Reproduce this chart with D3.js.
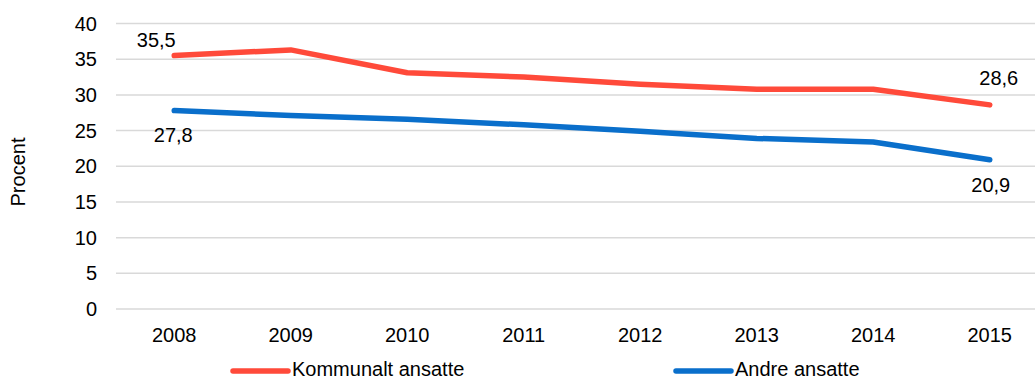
<!DOCTYPE html>
<html>
<head>
<meta charset="utf-8">
<script src="https://cdn.jsdelivr.net/npm/d3@7/dist/d3.min.js"></script>
<style>
  body { margin: 0; background: #fff; }
  text { font-family: "Liberation Sans", Arial, sans-serif; fill: #000; }
</style>
</head>
<body>
<div id="chart"></div>
<script>
var years = ["2008", "2009", "2010", "2011", "2012", "2013", "2014", "2015"];
var kommunalt = [35.5, 36.3, 33.1, 32.5, 31.5, 30.8, 30.8, 28.6];
var andre = [27.8, 27.1, 26.6, 25.8, 24.9, 23.9, 23.4, 20.9];
var yTicks = [0, 5, 10, 15, 20, 25, 30, 35, 40];

var width = 1035, height = 379;
var svg = d3.select("#chart").append("svg")
    .attr("width", width).attr("height", height);

var x = d3.scaleBand().domain(years).range([116, 1048]);
var y = d3.scaleLinear().domain([0, 40]).range([309, 23.5]);

// gridlines
svg.append("g").selectAll("line")
    .data(yTicks)
    .enter().append("line")
    .attr("x1", 116).attr("x2", width)
    .attr("y1", function(d) { return y(d); })
    .attr("y2", function(d) { return y(d); })
    .attr("stroke", "#d9d9d9").attr("stroke-width", 1.5);

// y tick labels
svg.append("g").selectAll("text")
    .data(yTicks)
    .enter().append("text")
    .attr("x", 97)
    .attr("y", function(d) { return y(d) + 7; })
    .attr("text-anchor", "end")
    .style("font-size", "20px")
    .text(function(d) { return d; });

// x labels
svg.append("g").selectAll("text")
    .data(years)
    .enter().append("text")
    .attr("x", function(d) { return x(d) + x.bandwidth() / 2; })
    .attr("y", 342)
    .attr("text-anchor", "middle")
    .style("font-size", "20px")
    .text(function(d) { return d; });

svg.append("text")
    .attr("transform", "translate(25,172) rotate(-90)")
    .attr("text-anchor", "middle")
    .style("font-size", "20px")
    .text("Procent");

var series = [
    { name: "Kommunalt ansatte", values: kommunalt, color: "#ff4a3a" },
    { name: "Andre ansatte", values: andre, color: "#0a6fcb" }
];

var line = d3.line()
    .x(function(d, i) { return x(years[i]) + x.bandwidth() / 2; })
    .y(function(d) { return y(d); });

series.forEach(function(s) {
    svg.append("path")
        .datum(s.values)
        .attr("d", line)
        .attr("fill", "none")
        .attr("stroke", s.color)
        .attr("stroke-width", 5.5)
        .attr("stroke-linecap", "round")
        .attr("stroke-linejoin", "round");
});

// data labels at first and last points
var fmt = function(v) { return d3.format(".1f")(v).replace(".", ","); };
var labels = [
    { v: kommunalt, i: 0, dx: -18, dy: -8.5 },
    { v: kommunalt, i: 7, dx: 9, dy: -20 },
    { v: andre, i: 0, dx: -1, dy: 31 },
    { v: andre, i: 7, dx: 1, dy: 32 }
];
svg.append("g").selectAll("text")
    .data(labels)
    .enter().append("text")
    .attr("x", function(d) { return x(years[d.i]) + x.bandwidth() / 2 + d.dx; })
    .attr("y", function(d) { return y(d.v[d.i]) + d.dy; })
    .attr("text-anchor", "middle")
    .style("font-size", "20px")
    .text(function(d) { return fmt(d.v[d.i]); });

// legend
var legendX = [233, 676];
var legend = svg.append("g").selectAll("g")
    .data(series)
    .enter().append("g")
    .attr("transform", function(d, i) { return "translate(" + legendX[i] + ",371)"; });
legend.append("line")
    .attr("x1", 0).attr("x2", 55)
    .attr("stroke", function(d) { return d.color; })
    .attr("stroke-width", 5.5)
    .attr("stroke-linecap", "round");
legend.append("text")
    .attr("x", 59).attr("y", 5)
    .style("font-size", "20px")
    .text(function(d) { return d.name; });
</script>
</body>
</html>
